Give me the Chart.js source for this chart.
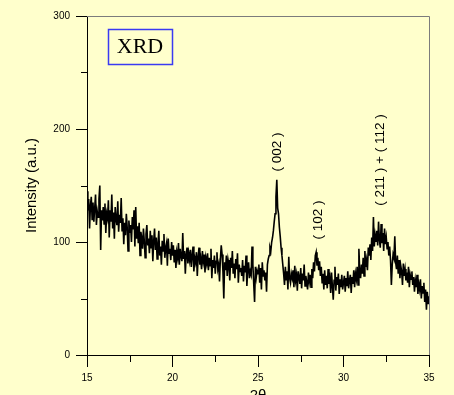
<!DOCTYPE html>
<html><head><meta charset="utf-8">
<script src="https://cdn.jsdelivr.net/npm/chart.js@4"></script>
<style>html,body{margin:0;padding:0;background:#FFFFCC;overflow:hidden}canvas{display:block}</style>
</head><body>
<canvas id="c" width="454" height="395"></canvas>
<script>
// ---- data ----
const twoThetaStart = 15;
const twoThetaStep = 0.05;
const intensity = [
 145,128,138,112,132,140,120,135,118,130,142,115,127,122,138,150,93,128,119,131,
 116,134,108,125,121,137,104,128,118,142,112,126,103,131,120,115,136,109,124,117,
 139,110,121,98,117,106,125,113,92,119,108,115,100,122,111,128,96,131,103,114,
 99,117,88,109,104,94,112,101,86,107,115,97,103,90,110,95,106,83,101,112,
 93,104,85,98,110,88,96,80,101,92,107,86,95,99,79,103,90,94,84,100,
 88,97,82,93,77,91,86,99,80,94,87,83,108,85,92,72,89,95,81,90,
 84,93,78,88,96,74,86,82,91,70,87,95,80,85,76,92,83,89,73,86,
 81,90,75,86,79,94,68,84,77,88,72,83,91,76,80,65,85,97,89,74,
 50,82,75,88,70,84,79,66,86,77,92,72,81,68,85,76,90,64,80,74,
 77,70,84,65,79,73,88,61,76,82,68,74,71,96,80,63,47,78,69,75,
 72,80,64,77,58,82,70,75,66,73,56,80,85,88,95,92,100,104,110,118,
 125,140,155,130,125,113,105,95,88,80,72,62,78,66,74,58,87,68,64,72,
 68,75,60,79,66,71,57,74,69,63,77,59,72,66,80,61,70,64,58,73,
 65,71,60,76,68,82,74,88,91,79,86,75,83,70,78,64,72,58,75,62,
 70,59,76,63,68,55,73,61,49,66,78,57,69,62,72,54,67,60,71,58,
 64,70,56,68,61,74,59,66,71,55,69,63,75,60,72,67,78,62,94,74,
 68,80,72,86,70,92,78,84,75,95,88,98,84,104,92,122,96,106,100,110,
 97,118,102,95,116,99,108,92,112,98,104,94,100,88,96,84,62,80,89,86,
 105,82,76,88,72,84,68,79,74,62,81,70,76,66,73,64,78,60,71,67,
 74,62,69,56,66,60,71,54,63,58,67,50,61,55,64,47,58,40,56,45,
 52
];
const xTickLabels = [15, 20, 25, 30, 35];
const xMinorTicks = [17.5, 22.5, 27.5, 32.5];
const yTickLabels = [0, 100, 200, 300];
const yMinorTicks = [50, 150, 250];
const peakLabels = ['( 002 )', '( 102 )', '( 211 ) + ( 112 )'];
const peakTwoTheta = [26.11, 28.51, 32.13];
const peakLabelCenter = [179.6, 119.5, 172.6];
const boxLabel = 'XRD';
const xTitle = '2θ';
const yTitle = 'Intensity (a.u.)';

const points = intensity.map((v, i) => ({ x: twoThetaStart + i * twoThetaStep, y: v }));

const BG = '#FFFFCC';
const SANS = '"Liberation Sans", Arial, sans-serif';

const decor = {
  id: 'decor',
  beforeDraw(chart) {
    const ctx = chart.ctx;
    ctx.save();
    ctx.fillStyle = BG;
    ctx.fillRect(0, 0, chart.width, chart.height);
    ctx.restore();
  },
  afterDraw(chart) {
    const { ctx, chartArea: a, scales: { x, y } } = chart;
    ctx.save();
    // top & right frame (grey)
    ctx.strokeStyle = '#7c7c7c';
    ctx.lineWidth = 1;
    ctx.beginPath();
    ctx.moveTo(a.left, Math.round(a.top) + 0.5);
    ctx.lineTo(Math.round(a.right) + 0.5, Math.round(a.top) + 0.5);
    ctx.lineTo(Math.round(a.right) + 0.5, a.bottom);
    ctx.stroke();
    // minor ticks
    ctx.strokeStyle = '#000';
    ctx.beginPath();
    xMinorTicks.forEach(v => {
      const px = Math.round(x.getPixelForValue(v)) + 0.5;
      ctx.moveTo(px, a.bottom);
      ctx.lineTo(px, a.bottom + 7);
    });
    yMinorTicks.forEach(v => {
      const py = Math.round(y.getPixelForValue(v)) + 0.5;
      ctx.moveTo(a.left - 6, py);
      ctx.lineTo(a.left, py);
    });
    ctx.stroke();
    // peak labels
    ctx.fillStyle = '#000';
    ctx.font = '13.5px ' + SANS;
    ctx.textAlign = 'center';
    ctx.textBaseline = 'middle';
    peakLabels.forEach((t, i) => {
      ctx.save();
      ctx.translate(x.getPixelForValue(peakTwoTheta[i]), y.getPixelForValue(peakLabelCenter[i]));
      ctx.rotate(-Math.PI / 2);
      ctx.fillText(t, 0, 0);
      ctx.restore();
    });
    // XRD box
    const bx0 = x.getPixelForValue(16.23), bx1 = x.getPixelForValue(19.97);
    const by0 = y.getPixelForValue(288.5), by1 = y.getPixelForValue(257.5);
    ctx.fillStyle = BG;
    ctx.fillRect(bx0, by0, bx1 - bx0, by1 - by0);
    ctx.strokeStyle = '#3a3af2';
    ctx.lineWidth = 1.5;
    ctx.strokeRect(Math.round(bx0) + 0.5, Math.round(by0) + 0.5, Math.round(bx1 - bx0), Math.round(by1 - by0));
    ctx.fillStyle = '#000';
    ctx.font = '22px "Liberation Serif", "Times New Roman", serif';
    ctx.textAlign = 'center';
    ctx.textBaseline = 'middle';
    ctx.fillText(boxLabel, (bx0 + bx1) / 2, (by0 + by1) / 2 + 1);
    ctx.restore();
  }
};

new Chart(document.getElementById('c'), {
  type: 'line',
  data: {
    datasets: [{
      data: points,
      borderColor: '#000',
      borderWidth: 1.6,
      pointRadius: 0,
      tension: 0,
      fill: false
    }]
  },
  options: {
    responsive: false,
    animation: false,
    devicePixelRatio: 1,
    layout: { padding: { left: 0, right: 25, top: 16, bottom: 0 } },
    plugins: { legend: { display: false }, tooltip: { enabled: false } },
    scales: {
      x: {
        type: 'linear',
        min: 15, max: 35,
        afterBuildTicks: s => { s.ticks = xTickLabels.map(v => ({ value: v })); },
        afterFit: s => { s.height = 40; },
        grid: { drawOnChartArea: false, drawTicks: true, tickLength: 12, color: '#000', lineWidth: 1 },
        border: { display: true, color: '#000', width: 1 },
        ticks: { padding: 5, color: '#000', font: { size: 10, family: SANS }, maxRotation: 0 },
        title: { display: true, text: xTitle, color: '#000', font: { size: 15, family: SANS, lineHeight: 1 }, padding: { top: 0, bottom: -8 } }
      },
      y: {
        type: 'linear',
        min: 0, max: 300,
        afterBuildTicks: s => { s.ticks = yTickLabels.map(v => ({ value: v })); },
        afterFit: s => { s.width = 87; },
        grid: { drawOnChartArea: false, drawTicks: true, tickLength: 11, color: '#000', lineWidth: 1 },
        border: { display: true, color: '#000', width: 1 },
        ticks: { padding: 6, color: '#000', font: { size: 10, family: SANS } },
        title: { display: true, text: yTitle, color: '#000', font: { size: 15, family: SANS, lineHeight: 1 }, padding: { top: 24.5, bottom: 0 } }
      }
    }
  },
  plugins: [decor]
});
</script>
</body></html>
